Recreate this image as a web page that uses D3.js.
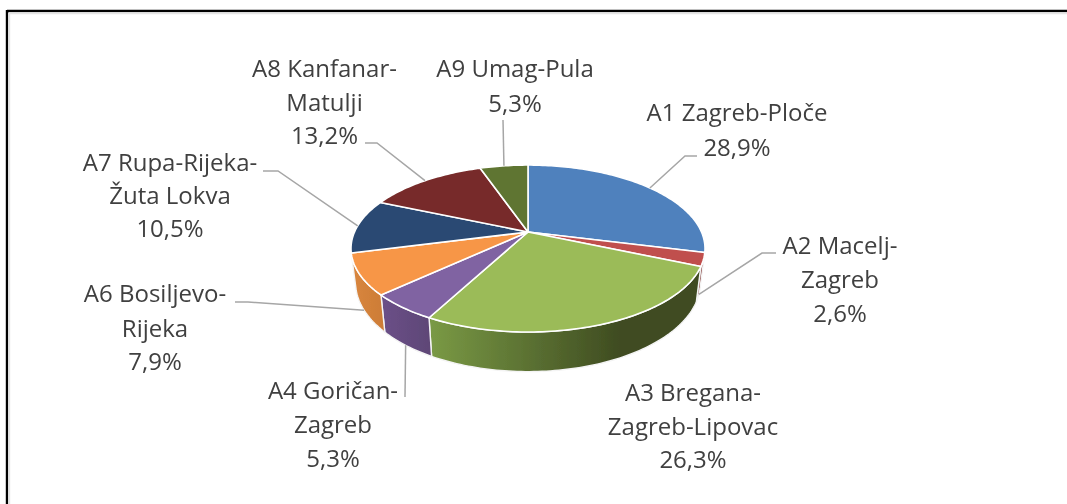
<!DOCTYPE html>
<html><head><meta charset="utf-8">
<script src="https://cdn.jsdelivr.net/npm/d3@7/dist/d3.min.js"></script>
<style>html,body{margin:0;padding:0;background:#fff;overflow:hidden}svg{display:block}</style>
</head><body><svg id="c" width="1067" height="504"></svg>
<script>
// ---- data ----
const categories = ["A1 Zagreb-Ploče","A2 Macelj-Zagreb","A3 Bregana-Zagreb-Lipovac","A4 Goričan-Zagreb","A6 Bosiljevo-Rijeka","A7 Rupa-Rijeka-Žuta Lokva","A8 Kanfanar-Matulji","A9 Umag-Pula"];
const shares = [28.9,2.6,26.3,5.3,7.9,10.5,13.2,5.3];
const labelLines = [["A1 Zagreb-Ploče"],["A2 Macelj-","Zagreb"],["A3 Bregana-","Zagreb-Lipovac"],["A4 Goričan-","Zagreb"],["A6 Bosiljevo-","Rijeka"],["A7 Rupa-Rijeka-","Žuta Lokva"],["A8 Kanfanar-","Matulji"],["A9 Umag-Pula"]];
const topColors = ["#4f81bd","#c0504d","#9bbb59","#8064a2","#f79646","#2a4a73","#772c2a","#5f7530"];
const rimStops = [null,["#7a2e2c","#7a2e2c"],["#7a9a45","#3f4c21"],["#6b5088","#5e4676"],["#d9863e","#cc7c36"],null,null,null];

// ---- layout (separate from data) ----
const W=1067,H=504;
const P=0.198, topDisc={cx:528,cy:232,R:173.5,H:80.2}, botDisc={cx:528,cy:265,R:169,H:85.5};
const labelPos=[{x:737,y:[121,156]},{x:840,y:[254,288,322]},{x:693,y:[401,435,468]},{x:333,y:[399,433,467]},{x:155,y:[302,337,370]},{x:170,y:[171,204,237]},{x:324.5,y:[77,111,144]},{x:515,y:[77,112]}];
const elbows=[[[697,156],[685,156]],[[776,253],[762,253]],null,[[405,397]],[[235,302],[248,302]],[[263,171],[278,171]],[[365,143],[377,143]],[[503,120]]];
const leaderOnRim=[false,true,false,true,true,false,false,false];

const svg=d3.select("#c");
const defs=svg.append("defs");
defs.append("filter").attr("id","soft").append("feGaussianBlur").attr("stdDeviation",0.45);
defs.append("filter").attr("id","softText").append("feGaussianBlur").attr("stdDeviation",0.3);

svg.append("line").attr("x1",7).attr("x2",W).attr("y1",11).attr("y2",11).attr("stroke","#000").attr("stroke-width",2.4);
svg.append("line").attr("x1",7).attr("x2",7).attr("y1",10).attr("y2",H).attr("stroke","#000").attr("stroke-width",2.4);
svg.append("line").attr("x1",9).attr("x2",W).attr("y1",13.2).attr("y2",13.2).attr("stroke","#e4e4e4").attr("stroke-width",2);
svg.append("line").attr("x1",9.2).attr("x2",9.2).attr("y1",13).attr("y2",H).attr("stroke","#e4e4e4").attr("stroke-width",2);

const pie=d3.pie().sort(null).value(d=>d);
const arcs=pie(shares);

// perspective projection of a disc angle (clockwise from 12 o'clock)
function proj(g,a){const u=Math.sin(a),v=Math.cos(a),w=1+P*v;return [g.cx+g.R*u/w,g.cy-g.H*v/w];}
function arcPts(g,a0,a1){const n=Math.max(2,Math.ceil(Math.abs(a1-a0)/0.02));return d3.range(n+1).map(i=>proj(g,a0+(a1-a0)*i/n));}
const line=d3.line();

const pg=svg.append("g").attr("filter","url(#soft)");

// rims
arcs.forEach((d,i)=>{
  if(!rimStops[i])return;
  const id="rim"+i;
  const pts=arcPts(topDisc,d.startAngle,d.endAngle).concat(arcPts(botDisc,d.endAngle,d.startAngle));
  const xs=pts.map(p=>p[0]);
  const gr=defs.append("linearGradient").attr("id",id).attr("gradientUnits","userSpaceOnUse")
    .attr("x1",d3.min(xs)).attr("x2",d3.max(xs)).attr("y1",0).attr("y2",0);
  const l=i===2;
  const [a,b]=rimStops[i];
  gr.append("stop").attr("offset",0).attr("stop-color",a);
  if(l)gr.append("stop").attr("offset",0.7).attr("stop-color",b);
  gr.append("stop").attr("offset",1).attr("stop-color",b);
  pg.append("path").attr("d",line(pts)+"Z").attr("fill",`url(#${id})`).attr("stroke","#f4f4f4").attr("stroke-width",1.4).attr("stroke-linejoin","round");
});
// tops
pg.selectAll("path.top").data(arcs).join("path").attr("class","top")
  .attr("d",d=>line([[topDisc.cx,topDisc.cy],...arcPts(topDisc,d.startAngle,d.endAngle)])+"Z")
  .attr("fill",(d,i)=>topColors[i]).attr("stroke","#fff").attr("stroke-width",1.6).attr("stroke-linejoin","round");

// leaders
const lg=svg.append("g").attr("filter","url(#soft)");
arcs.forEach((d,i)=>{
  if(!elbows[i])return;
  const end=proj(leaderOnRim[i]?botDisc:topDisc,(d.startAngle+d.endAngle)/2);
  lg.append("path").attr("d",line([...elbows[i],end])).attr("fill","none").attr("stroke","#a6a6a6").attr("stroke-width",1.5);
});

// labels
const fmt=v=>v.toFixed(1).replace(".",",")+"%";
const tg=svg.append("g").attr("font-family","'Open Sans',sans-serif").attr("font-size",24).attr("fill","#404040").attr("text-anchor","middle").attr("filter","url(#softText)");
categories.forEach((c,i)=>{
  const lines=[...labelLines[i],fmt(shares[i])];
  lines.forEach((t,j)=>tg.append("text").attr("x",labelPos[i].x).attr("y",labelPos[i].y[j]).text(t));
});
</script></body></html>
